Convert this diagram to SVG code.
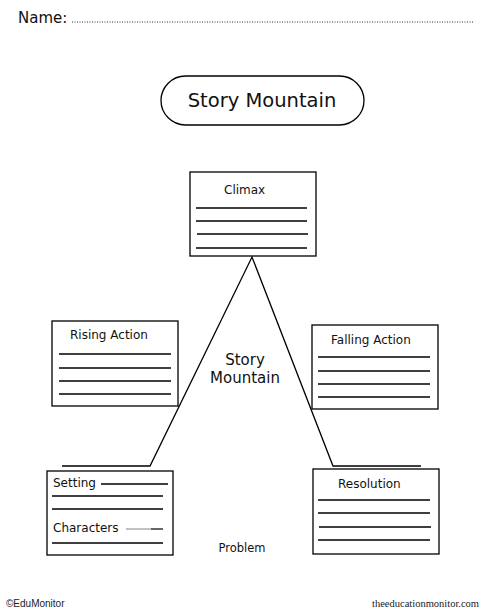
<svg xmlns="http://www.w3.org/2000/svg" width="492" height="614" viewBox="0 0 492 614">
<style>
.t{font-family:"DejaVu Sans","Liberation Sans",sans-serif;fill:#111}
.box{fill:#fff;stroke:#000;stroke-width:1.3}
.ln{stroke:#000;stroke-width:1.3;fill:none}
</style>
<rect width="492" height="614" fill="#fff"/>
<g id="name">
<text class="t" x="18" y="23" font-size="15">Name:</text>
<line x1="72" y1="22" x2="474" y2="22" stroke="#333" stroke-width="1" stroke-dasharray="1,1.5"/>
</g>
<g id="title">
<rect x="161" y="76" width="203" height="49" rx="24.5" class="box" stroke-width="1.5"/>
<text class="t" x="262" y="107" font-size="19.5" text-anchor="middle">Story Mountain</text>
</g>
<g id="connectors">
<polyline class="ln" points="62,466 150,466 252,257 333,466 421,466"/>
</g>
<g id="climax">
<rect x="190" y="172" width="126" height="84" class="box"/>
<text class="t" x="224" y="194" font-size="12">Climax</text>
<path class="ln" d="M196 208H307M196 221H307M197 234H308M196 248H307"/>
</g>
<g id="rising">
<rect x="52" y="321" width="126" height="85" class="box"/>
<text class="t" x="70" y="339" font-size="12">Rising Action</text>
<path class="ln" d="M59 354H171M59 368H171M59 381H171M59 394H171"/>
</g>
<g id="falling">
<rect x="312" y="325" width="126" height="84" class="box"/>
<text class="t" x="331" y="344" font-size="12">Falling Action</text>
<path class="ln" d="M318 357H430M318 371H430M318 384H430M318 397H430"/>
</g>
<g id="center">
<text class="t" x="245" y="365" font-size="15" text-anchor="middle">Story</text>
<text class="t" x="245" y="383" font-size="15" text-anchor="middle">Mountain</text>
</g>
<g id="setting">
<rect x="47" y="471" width="126" height="84" class="box"/>
<text class="t" x="53" y="487" font-size="12">Setting</text>
<path class="ln" d="M101 484H168M52 496H163M52 509H163M52 543H163"/>
<text class="t" x="53" y="532" font-size="12">Characters</text>
<line x1="126" y1="529" x2="151" y2="529" stroke="#999" stroke-width="1.2"/>
<line x1="151" y1="529" x2="163" y2="529" stroke="#000" stroke-width="1.2"/>
</g>
<g id="resolution">
<rect x="313" y="469" width="126" height="85" class="box"/>
<text class="t" x="338" y="488" font-size="12">Resolution</text>
<path class="ln" d="M318 500H430M318 513H430M319 527H431M318 540H430"/>
</g>
<text class="t" x="242" y="552" font-size="11.5" text-anchor="middle">Problem</text>
<text x="6" y="607" font-family="Liberation Sans,Arial,sans-serif" font-size="10" fill="#222">©EduMonitor</text>
<text x="479" y="607" font-family="Liberation Serif,Times New Roman,serif" font-size="10.5" fill="#222" text-anchor="end">theeducationmonitor.com</text>
</svg>
